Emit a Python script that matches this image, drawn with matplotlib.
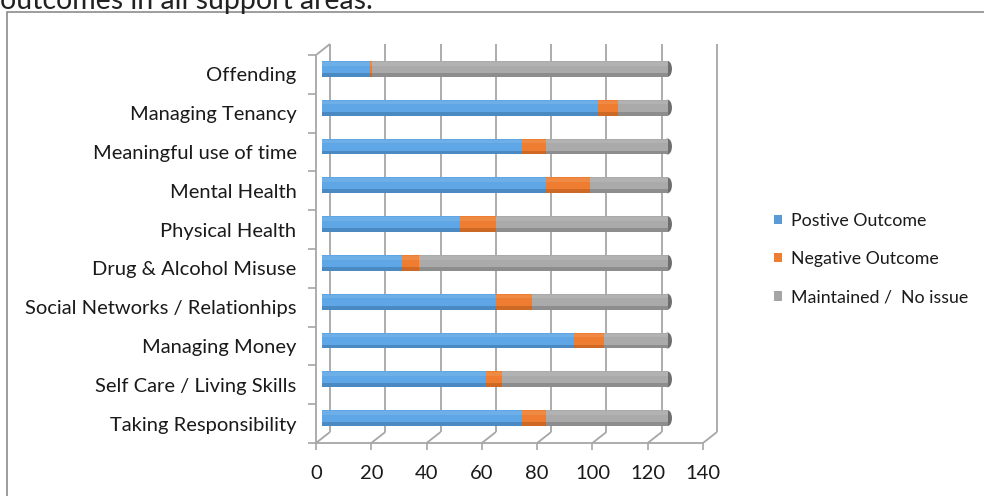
import matplotlib
matplotlib.use("Agg")
import matplotlib.pyplot as plt
import matplotlib.transforms as mtransforms
from matplotlib.patches import Patch, Ellipse, Rectangle

categories = [
    "Taking Responsibility",
    "Self Care / Living Skills",
    "Managing Money",
    "Social Networks / Relationhips",
    "Drug & Alcohol Misuse",
    "Physical Health",
    "Mental Health",
    "Meaningful use of time",
    "Managing Tenancy",
    "Offending",
]
positive = [72, 59, 91, 63, 29, 50, 81, 72, 100, 17]
negative = [9, 6, 11, 13, 6, 13, 16, 9, 7, 1]
maintained = [44, 60, 23, 49, 90, 62, 28, 44, 18, 107]
series_names = ["Postive Outcome", "Negative Outcome", "Maintained /  No issue"]
x_ticks = [0, 20, 40, 60, 80, 100, 120, 140]

colors = ["#5FA6E6", "#EE7D31", "#AAAAAA"]
darks = ["#3F76AA", "#B85C1E", "#7A7A7A"]
legend_colors = ["#5B9BD5", "#ED7D31", "#A5A5A5"]
wall = "#A6A6A6"

plt.rcParams["font.family"] = ["Lato", "DejaVu Sans"]

W, H = 984, 496
fig = plt.figure(figsize=(W / 100, H / 100), dpi=100)

# chart frame and the cut-off caption above it
fig.patches.append(Rectangle((7 / W, -0.1), 1.2, 1.1 - 12 / H, transform=fig.transFigure,
                             fill=False, edgecolor="#8C8C8C", linewidth=1.2))
fig.text(0, 1 - 9 / H, "outcomes in all support areas.", fontsize=20.5, color="#222222",
         va="baseline", ha="left")

# front plane of the 3D plot
ax = fig.add_axes([316 / W, 1 - 443 / H, (703 - 316) / W, (443 - 55) / H])
n = len(categories)
ax.set_xlim(0, 140)
ax.set_ylim(-0.5, n - 0.5)
for s in ax.spines.values():
    s.set_visible(False)
ax.patch.set_alpha(0)

# depth offset of back wall (pixels) converted to data units
depth_px = (14, 11)
fig.canvas.draw()
p0 = ax.transData.transform((0, -0.5))
dx, dy = ax.transData.inverted().transform((p0[0] + depth_px[0], p0[1] + depth_px[1])) - (0, -0.5)

line_kw = dict(color=wall, linewidth=1.3, clip_on=False, zorder=0.5, solid_capstyle="butt")
top = n - 0.5
bot = -0.5
for xt in x_ticks:
    ax.plot([xt + dx, xt + dx], [bot + dy, top + dy], **line_kw)   # back wall grid
    ax.plot([xt, xt + dx], [bot, bot + dy], **line_kw)             # floor
ax.plot([0, 140], [bot, bot], **line_kw)
ax.plot([0, 0], [bot, top], **line_kw)
ax.plot([0, dx], [top, top + dy], **line_kw)

# bars sit at mid depth
bar_tr = mtransforms.offset_copy(ax.transData, fig=fig, x=depth_px[0] / 2 - 1,
                                 y=depth_px[1] / 2, units="dots")
h = 0.41
ypos = list(range(n))
lefts = [0] * n
for vals, c, d in zip([positive, negative, maintained], colors, darks):
    ax.barh(ypos, vals, left=lefts, height=h, color=c, transform=bar_tr, zorder=3)
    ax.barh([y - h * 0.38 for y in ypos], vals, left=lefts, height=h * 0.24,
            color=d, alpha=0.6, linewidth=0, transform=bar_tr, zorder=3.1)
    ax.barh([y + h * 0.32 for y in ypos], vals, left=lefts, height=h * 0.22,
            color="white", alpha=0.1, linewidth=0, transform=bar_tr, zorder=3.1)
    lefts = [l + v for l, v in zip(lefts, vals)]
for y, total in zip(ypos, lefts):
    ax.add_patch(Ellipse((total, y), 3.2, h, facecolor="#6E6E6E", edgecolor="none",
                         transform=bar_tr, zorder=2.9))

# axes ticks / labels
ax.set_yticks(ypos)
ax.set_yticklabels(categories, fontsize=14.5, color="#1A1A1A")
ax.set_yticks([i - 0.5 for i in range(n + 1)], minor=True)
ax.tick_params(axis="y", which="major", length=0, pad=14)
ax.tick_params(axis="y", which="minor", length=6, color=wall, width=1.2)
ax.set_xticks(x_ticks)
ax.set_xticklabels([str(t) for t in x_ticks], fontsize=14.5, color="#1A1A1A")
ax.tick_params(axis="x", length=5, color=wall, width=1.2, pad=11)

handles = [Patch(facecolor=c, edgecolor="none") for c in legend_colors]
fig.legend(handles, series_names, loc="center left", bbox_to_anchor=(758 / W, 1 - 259 / H),
           frameon=False, fontsize=12.8, handlelength=0.45, handleheight=0.45,
           handletextpad=0.5, labelspacing=1.25, labelcolor="#1A1A1A")

fig.savefig("out.png", dpi=100)
